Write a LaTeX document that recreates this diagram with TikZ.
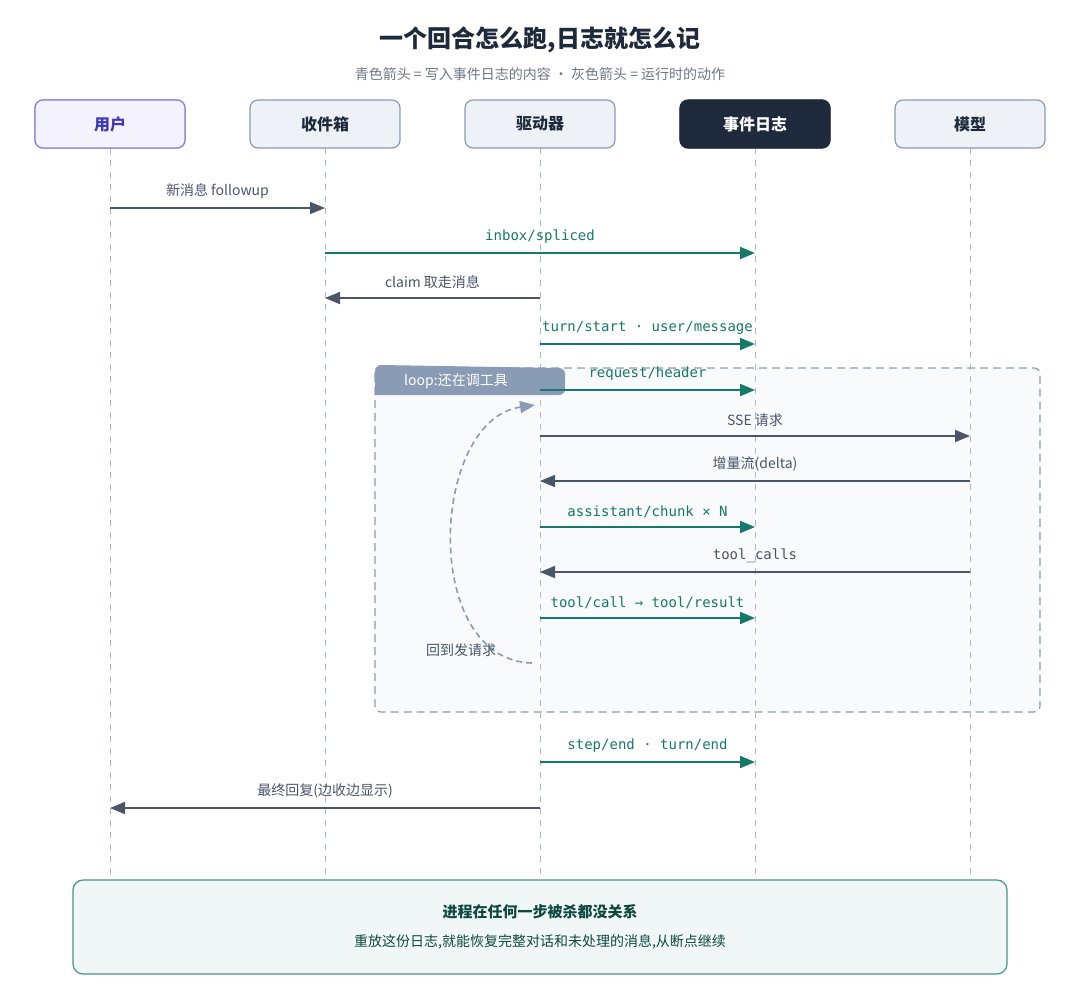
\documentclass[tikz,border=0pt]{standalone}
\usepackage{fontspec}
\setmainfont{Noto Sans CJK SC}
\newfontfamily\monofont{DejaVu Sans Mono}
\usetikzlibrary{arrows.meta, positioning, calc}
\definecolor{teal}{HTML}{16796A}
\definecolor{slate}{HTML}{4A5568}
\definecolor{hdfill}{HTML}{EEF2F7}
\definecolor{hddraw}{HTML}{8A9BB5}
\definecolor{dark}{HTML}{1E293B}
\definecolor{indigo}{HTML}{4F46E5}
\begin{document}
\begin{tikzpicture}[x=0.5pt, y=-0.5pt, >={Triangle[length=7.5pt,width=6pt]},
    head/.style={draw=hddraw, fill=hdfill, rounded corners=4pt, minimum width=75pt,
      minimum height=24pt, font=\fontsize{8}{9}\selectfont\bfseries, text=dark, line width=0.6pt},
    life/.style={draw=hddraw!70, dash pattern=on 3pt off 3pt, line width=0.4pt},
    log/.style={->, draw=teal, line width=1pt},
    act/.style={->, draw=slate, line width=0.8pt},
    loglbl/.style={font=\monofont\fontsize{7}{8}\selectfont, text=teal, above=1pt},
    actlbl/.style={font=\fontsize{7}{8}\selectfont, text=slate, above=1pt}]
  \useasboundingbox (0,0) rectangle (1080,987);

  % title
  \node[font=\fontsize{12}{14}\selectfont\bfseries, text=dark] (title) at (540,40) {一个回合怎么跑,日志就怎么记};
  \node[font=\fontsize{7}{8}\selectfont, text=slate!80] (sub) at (540,74) {青色箭头 = 写入事件日志的内容 · 灰色箭头 = 运行时的动作};

  % loop frame
  \draw[hddraw, fill=hdfill!40, dash pattern=on 4pt off 2.5pt, rounded corners=3pt, line width=0.6pt]
    (375,368) rectangle (1040,712);

  % lifelines
  \foreach \name/\x/\txt in {user/110/用户, inbox/325/收件箱, driver/540/驱动器, log/755/事件日志, model/970/模型} {
    \draw[life] (\x,148) -- (\x,875);
    \node[head] (\name) at (\x,124) {\txt};
  }
  \node[head, draw=indigo!70, fill=indigo!7, text=indigo!80!black] at (user) {用户};
  \node[head, draw=dark, fill=dark, text=white] at (log) {事件日志};

  \fill[hddraw] (375,395) -- (375,371) arc[start angle=180, end angle=90, radius=3pt] -- (559,368)
    arc[start angle=90, end angle=0, radius=3pt] -- (565,389) arc[start angle=0, end angle=-90, radius=3pt] -- cycle;
  \node[font=\fontsize{7}{8}\selectfont, text=white] (tab) at (456,381) {loop:还在调工具};

  % message endpoints
  \foreach \i/\a/\b/\y in {1/110/325/208, 2/325/755/253, 3/540/325/298, 4/540/755/344,
      5/540/755/390, 6/540/970/436, 7/970/540/481, 8/540/755/527, 9/970/540/572,
      10/540/755/618, 11/540/755/762, 12/540/110/808} {
    \coordinate (s\i) at (\a,\y);
    \coordinate (t\i) at (\b,\y);
  }

  \draw[act] (s1) -- node[actlbl] {新消息 followup} (t1);
  \draw[log] (s2) -- node[loglbl] {inbox/spliced} (t2);
  \draw[act] (s3) -- node[actlbl] {claim 取走消息} (t3);
  \draw[log] (s4) -- node[loglbl] {turn/start · user/message} (t4);
  \draw[log] (s5) -- node[loglbl] {request/header} (t5);
  \draw[act] (s6) -- node[actlbl] {SSE 请求} (t6);
  \draw[act] (s7) -- node[actlbl] {增量流(delta)} (t7);
  \draw[log] (s8) -- node[loglbl] {assistant/chunk × N} (t8);
  \draw[act] (s9) -- node[loglbl, text=slate] {tool\_calls} (t9);
  \draw[log] (s10) -- node[loglbl] {tool/call → tool/result} (t10);
  \draw[log] (s11) -- node[loglbl] {step/end · turn/end} (t11);
  \draw[act] (s12) -- node[actlbl] {最终回复(边收边显示)} (t12);

  % back to request
  \coordinate (back0) at (532,663);
  \coordinate (back1) at (535,405);
  \draw[->, hddraw, dash pattern=on 3pt off 2pt, line width=0.8pt]
    (back0) .. controls (420,660) and (430,420) .. (back1);
  \node[font=\fontsize{7}{8}\selectfont, text=slate] (backlbl) at (461,650) {回到发请求};

  % note
  \node[draw=teal!80, fill=teal!6, rounded corners=5pt, line width=0.6pt,
    minimum width=467pt, minimum height=47pt] (note) at (540,927) {};
  \node[font=\fontsize{7.5}{9}\selectfont\bfseries, text=teal!60!black] (note1) at (540,912) {进程在任何一步被杀都没关系};
  \node[font=\fontsize{7}{8}\selectfont, text=teal!60!black] (note2) at (540,942) {重放这份日志,就能恢复完整对话和未处理的消息,从断点继续};
\end{tikzpicture}
\end{document}
